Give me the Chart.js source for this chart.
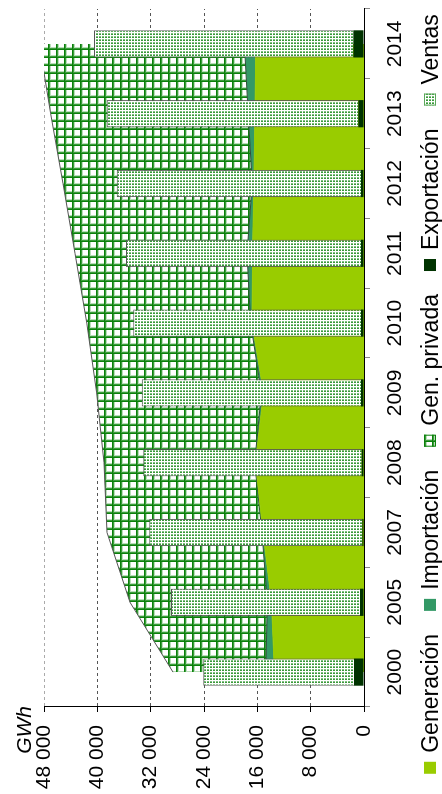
<!DOCTYPE html>
<html lang="es">
<head>
<meta charset="UTF-8">
<title>Balance de energía eléctrica</title>
<script src="https://cdn.jsdelivr.net/npm/chart.js"></script>
<style>
  html, body { margin: 0; padding: 0; background: #fff; overflow: hidden; }
  /* the chart is drawn landscape and turned a quarter turn to the left */
  #wrap {
    position: absolute;
    left: 0;
    top: 794px;
    width: 794px;
    height: 442px;
    transform-origin: 0 0;
    transform: rotate(-90deg);
  }
</style>
</head>
<body>
<div id="wrap"><canvas id="energia" width="794" height="442"></canvas></div>

<script>
  const years = ['2000', '2005', '2007', '2008', '2009', '2010', '2011', '2012', '2013', '2014'];
  const generacion  = [13440, 13870, 15150, 16280, 15060, 16800, 16710, 16520, 16350, 16220];
  const importacion = [1290, 630, 150, 120, 330, 200, 840, 240, 1020, 1720];
  const genPrivada  = [13920, 20600, 23250, 22600, 24710, 24580, 25800, 28390, 29630, 30760];
  const exportacion = [1500, 600, 250, 350, 450, 450, 450, 450, 850, 1600];
  const ventas      = [22600, 28350, 31950, 32750, 32900, 34150, 35250, 36650, 37750, 38900];
  const valueTicks  = [0, 8000, 16000, 24000, 32000, 40000, 48000];
  const legendNames = ['Generación', 'Importación', 'Gen. privada', 'Exportación', 'Ventas'];

  const FONT = '"Liberation Sans", Arial, sans-serif';
  Chart.defaults.font.family = FONT;
  Chart.defaults.color = '#000';

  const canvas = document.getElementById('energia');
  const ctx = canvas.getContext('2d');

  // grid hatch for private generation
  function gridPattern() {
    const t = document.createElement('canvas');
    t.width = 8; t.height = 8;
    const g = t.getContext('2d');
    g.fillStyle = '#fff';
    g.fillRect(0, 0, 8, 8);
    g.fillStyle = '#b8deb8';
    g.fillRect(0, 0, 8, 3);
    g.fillRect(0, 0, 3, 8);
    g.fillStyle = '#3c9c3c';
    g.fillRect(0, 0, 8, 2);
    g.fillRect(0, 0, 2, 8);
    g.fillStyle = '#0b800b';
    g.fillRect(0, 0, 8, 1);
    g.fillRect(0, 0, 1, 8);
    return ctx.createPattern(t, 'repeat');
  }

  // small dots for sales
  function dotPattern() {
    const t = document.createElement('canvas');
    t.width = 3; t.height = 3;
    const g = t.getContext('2d');
    g.fillStyle = '#fff';
    g.fillRect(0, 0, 3, 3);
    g.fillStyle = '#3a983a';
    g.fillRect(0, 0, 1, 2);
    g.fillStyle = '#80c080';
    g.fillRect(1, 0, 1, 2);
    return ctx.createPattern(t, 'repeat');
  }

  const privadaFill = gridPattern();
  const ventasFill = dotPattern();

  const legendStyle = [
    { fill: '#99cc00', stroke: null },
    { fill: '#339966', stroke: null },
    { fill: privadaFill, stroke: '#0a800a' },
    { fill: '#003300', stroke: null },
    { fill: ventasFill, stroke: '#5aa85a' }
  ];

  // legend along the bottom and the unit label over the value axis
  const extras = {
    id: 'extras',
    afterDraw(chart) {
      const c = chart.ctx;
      c.save();
      c.fillStyle = '#000';
      c.font = 'italic 21px ' + FONT;
      c.textAlign = 'right';
      c.textBaseline = 'alphabetic';
      c.fillText('GWh', chart.chartArea.left + 1, 31);

      c.font = '23px ' + FONT;
      c.textAlign = 'left';
      const box = 12, gapText = 9, gapItem = 23;
      const widths = legendNames.map(n => c.measureText(n).width);
      let total = widths.reduce((a, b) => a + b, 0) + legendNames.length * (box + gapText) + (legendNames.length - 1) * gapItem;
      let x = 400 - total / 2;
      legendNames.forEach((name, i) => {
        const s = legendStyle[i];
        c.fillStyle = s.fill;
        c.fillRect(x, 424, box, box);
        if (s.stroke) {
          c.strokeStyle = s.stroke;
          c.lineWidth = 1;
          c.strokeRect(x + 0.5, 424.5, box - 1, box - 1);
        }
        c.fillStyle = '#000';
        c.fillText(name, x + box + gapText, 437.5);
        x += box + gapText + widths[i] + gapItem;
      });
      c.restore();
    }
  };

  new Chart(canvas, {
    type: 'bar',
    data: {
      labels: years,
      datasets: [
        {
          type: 'line', label: 'Generación', data: generacion, stack: 'area', order: 2,
          backgroundColor: '#99cc00', borderColor: '#99cc00', borderWidth: 1,
          pointRadius: 0, tension: 0, fill: 'origin'
        },
        {
          type: 'line', label: 'Importación', data: importacion, stack: 'area', order: 2,
          backgroundColor: '#339966', borderColor: '#2f4f3a', borderWidth: 1,
          pointRadius: 0, tension: 0, fill: '-1'
        },
        {
          type: 'line', label: 'Gen. privada', data: genPrivada, stack: 'area', order: 2,
          backgroundColor: privadaFill, borderColor: '#555', borderWidth: 1,
          pointRadius: 0, tension: 0, fill: '-1'
        },
        {
          label: 'Exportación', data: exportacion, stack: 'bars', order: 1,
          backgroundColor: '#003300', borderWidth: 0,
          barPercentage: 0.39, categoryPercentage: 1
        },
        {
          label: 'Ventas', data: ventas, stack: 'bars', order: 1,
          backgroundColor: ventasFill, borderColor: '#555', borderWidth: 1,
          barPercentage: 0.39, categoryPercentage: 1
        }
      ]
    },
    options: {
      responsive: false,
      animation: false,
      devicePixelRatio: 1,
      layout: { padding: { top: 44, right: 9, left: 0, bottom: 0 } },
      plugins: {
        legend: { display: false },
        tooltip: { enabled: false }
      },
      scales: {
        x: {
          stacked: true,
          afterFit: s => { s.height = 78; },
          ticks: { font: { size: 21 }, color: '#000', padding: 13 },
          grid: { drawOnChartArea: false, tickLength: 6, color: '#888' },
          border: { display: true, color: '#000', width: 1 }
        },
        y: {
          stacked: true,
          min: 0,
          max: 48000,
          afterFit: s => { s.width = 87; },
          afterBuildTicks: s => { s.ticks = valueTicks.map(v => ({ value: v })); },
          ticks: {
            font: { size: 21 }, color: '#000', padding: 13,
            callback: v => String(v).replace(/\B(?=(\d{3})+(?!\d))/g, ' ')
          },
          grid: {
            tickLength: 5,
            tickColor: '#000',
            color: c => (c.tick && c.tick.value === 48000) ? '#aaa' : '#555'
          },
          border: { display: true, color: '#000', width: 1, dash: [3, 3] }
        }
      }
    },
    plugins: [extras]
  });
</script>
</body>
</html>
